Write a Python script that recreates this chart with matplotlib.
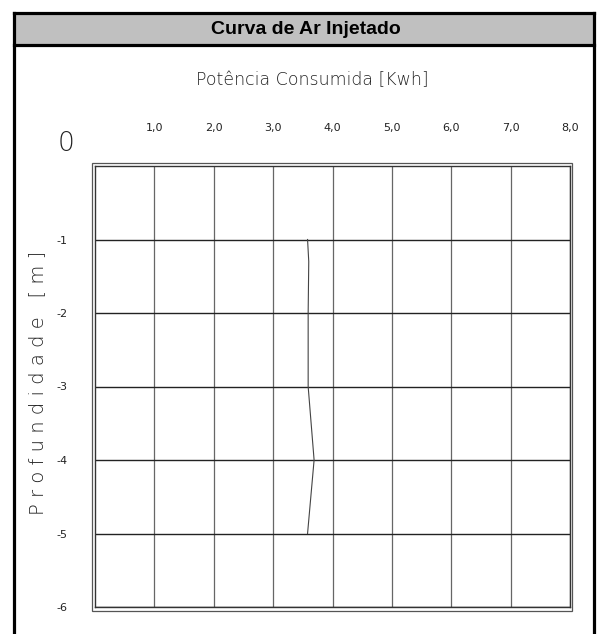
import numpy as np
import matplotlib
matplotlib.use("Agg")
from matplotlib import pyplot as plt
from matplotlib.patches import Rectangle
from matplotlib.lines import Line2D

# data
depth = [-1, -1.3, -2, -3, -4, -5]           # Profundidade [m]
power = [3.58, 3.60, 3.59, 3.59, 3.69, 3.58]  # Potência Consumida [Kwh]
xticks = [1, 2, 3, 4, 5, 6, 7, 8]
xlabels = ["1,0", "2,0", "3,0", "4,0", "5,0", "6,0", "7,0", "8,0"]
yticks = [-1, -2, -3, -4, -5, -6]
ylabels = ["-1", "-2", "-3", "-4", "-5", "-6"]

W, H = 600, 634
fig = plt.figure(figsize=(W / 100, H / 100), dpi=100)
fig.patch.set_facecolor("white")

def fx(px):
    return px / W

def fy(py):
    return 1 - py / H

# outer frame + title band
fig.add_artist(Rectangle((fx(13.5), fy(44.5)), fx(580), 32 / H, transform=fig.transFigure,
                         facecolor="#c0c0c0", edgecolor="none"))
for xs, ys in [([13.5, 13.5], [12.5, 634]), ([593.5, 593.5], [12.5, 634]),
               ([13.5, 593.5], [12.5, 12.5]), ([13.5, 593.5], [44.5, 44.5])]:
    fig.add_artist(Line2D([fx(v) for v in xs], [fy(v) for v in ys], transform=fig.transFigure,
                          color="black", lw=2.3, solid_capstyle="projecting"))
fig.text(fx(306), fy(30), "Curva de Ar Injetado", ha="center", va="center",
         fontsize=14, fontweight="bold", family="Liberation Sans")

# double border around the plot
fig.add_artist(Rectangle((fx(92), fy(611)), fx(480), 448 / H, transform=fig.transFigure,
                         facecolor="none", edgecolor="#555555", lw=0.9))

ax = fig.add_axes([fx(95), fy(607), fx(475), 441 / H])
ax.set_xlim(0, 8)
ax.set_ylim(-6, 0)

ax.plot(power, depth, color="#444444", lw=0.8)

ax.set_xticks(xticks)
ax.set_xticklabels(xlabels)
ax.set_yticks(yticks)
ax.set_yticklabels(ylabels)
ax.xaxis.tick_top()
ax.tick_params(axis="x", length=0, pad=24, labelsize=8, labelcolor="#222222")
ax.tick_params(axis="y", length=0, pad=24, labelsize=8, labelcolor="#222222")
for lab in ax.get_yticklabels():
    lab.set_horizontalalignment("center")
ax.xaxis.grid(True, color="#666666", lw=0.9)
ax.yaxis.grid(True, color="#222222", lw=1.0)
for s in ax.spines.values():
    s.set_color("#333333")
    s.set_linewidth(1.0)

ax.text(-0.06, 1.05, "0", transform=ax.transAxes, ha="center", va="center",
        fontsize=19, color="#222222", fontweight="light")
fig.text(fx(312), fy(80), "Potência Consumida [Kwh]", ha="center", va="center",
         fontsize=12.5, color="#222222", fontweight="light")
fig.text(fx(38), fy(383), "P r o f u n d i d a d e   [ m ]", ha="center", va="center",
         rotation=90, fontsize=14, color="#222222", fontweight="light")

fig.savefig("out.png", dpi=100)
